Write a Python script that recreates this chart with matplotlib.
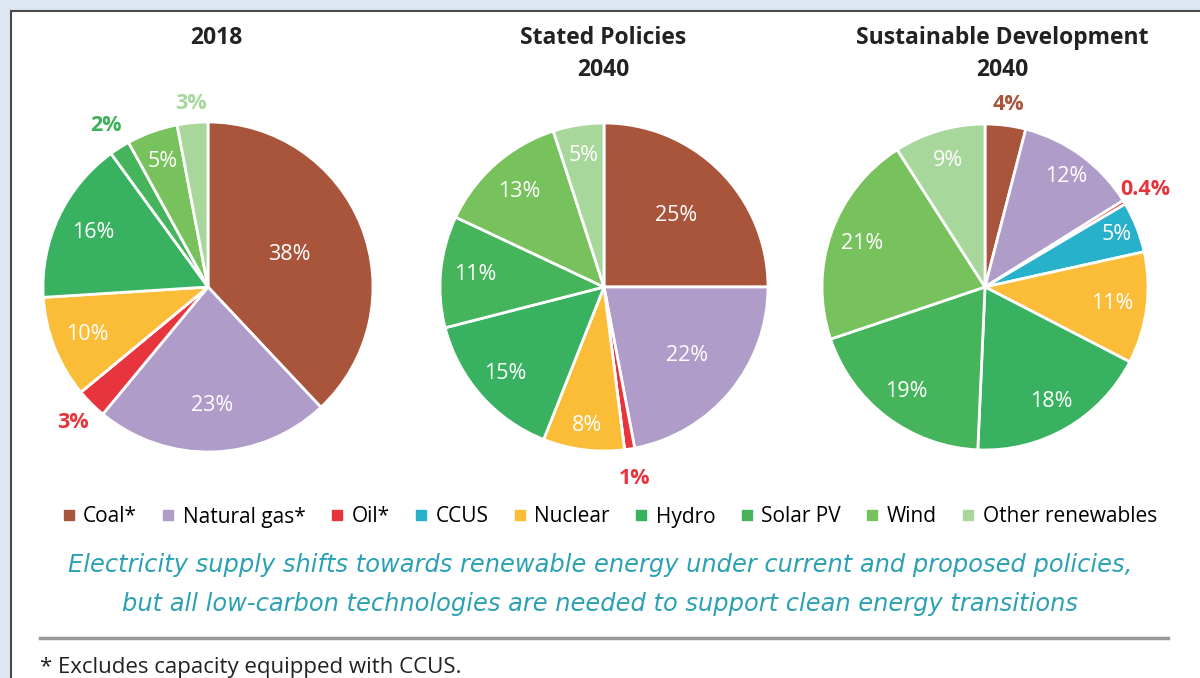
import matplotlib
matplotlib.use("Agg")
import matplotlib.pyplot as plt
from matplotlib.patches import Rectangle
from matplotlib.lines import Line2D
import numpy as np

# ---------------- data ----------------
categories = ["Coal*", "Natural gas*", "Oil*", "CCUS", "Nuclear", "Hydro",
              "Solar PV", "Wind", "Other renewables"]
titles = ["2018", "Stated Policies\n2040", "Sustainable Development\n2040"]
share_2018 = [38, 23, 3, 0, 10, 16, 2, 5, 3]
share_sp2040 = [25, 22, 1, 0, 8, 15, 11, 13, 5]
share_sd2040 = [4, 12, 0.4, 5, 11, 18, 19, 21, 9]
label_2018 = ["38%", "23%", "3%", "", "10%", "16%", "2%", "5%", "3%"]
label_sp2040 = ["25%", "22%", "1%", "", "8%", "15%", "11%", "13%", "5%"]
label_sd2040 = ["4%", "12%", "0.4%", "5%", "11%", "18%", "19%", "21%", "9%"]

# ---------------- style ----------------
colors = ["#a9553b", "#b09cc8", "#e8343c", "#27b1cb", "#fbbd38",
          "#38b161", "#45b45a", "#78c25d", "#a8d79b"]
FONT = "Open Sans"
W, H = 1200, 678

# label radial distance (fraction of radius) and whether outside (bold coloured)
dist_2018 = [0.53, 0.72, 1.16, 0, 0.79, 0.77, 1.16, 0.81, 1.12]
out_2018 = [False, False, True, False, False, False, True, False, True]
dist_sp = [0.62, 0.66, 1.18, 0, 0.85, 0.80, 0.79, 0.78, 0.81]
out_sp = [False, False, True, False, False, False, False, False, False]
dist_sd = [1.13, 0.84, 1.15, 0.87, 0.79, 0.81, 0.80, 0.80, 0.81]
out_sd = [True, False, True, False, False, False, False, False, False]

pies = [
    (share_2018, label_2018, dist_2018, out_2018, (208, 287), 165, (216, 37)),
    (share_sp2040, label_sp2040, dist_sp, out_sp, (604, 287), 164, (603, 37)),
    (share_sd2040, label_sd2040, dist_sd, out_sd, (985, 287), 163, (1002, 37)),
]

fig = plt.figure(figsize=(W / 100, H / 100), dpi=100, facecolor="#dde7f2")

# white panel with border
panel = Rectangle((11 / W, -0.05), 1.1, 1 - 11 / H + 0.05, transform=fig.transFigure,
                  facecolor="white", edgecolor="#4a4a4a", linewidth=1.5, zorder=-5)
fig.add_artist(panel)

for (vals, labs, dists, outs, (cx, cy), R, (tx, ty)), title in zip(pies, titles):
    ax = fig.add_axes([(cx - R) / W, 1 - (cy + R) / H, 2 * R / W, 2 * R / H])
    ax.patch.set_visible(False)
    wedges, _ = ax.pie(vals, colors=colors, startangle=90, counterclock=False,
                       radius=1, wedgeprops=dict(edgecolor="white", linewidth=2))
    ax.set_xlim(-1, 1)
    ax.set_ylim(-1, 1)
    ax.set_aspect("equal")
    ax.axis("off")
    for w, lab, d, o, col in zip(wedges, labs, dists, outs, colors):
        if not lab:
            continue
        ang = np.deg2rad((w.theta1 + w.theta2) / 2)
        x, y = d * np.cos(ang), d * np.sin(ang)
        if o:
            tc = "#3cb15a" if col == "#45b45a" else col
            ax.text(x, y, lab, ha="center", va="center", fontsize=15.5,
                    fontweight="bold", color=tc, family=FONT, clip_on=False)
        else:
            ax.text(x, y, lab, ha="center", va="center", fontsize=15.5,
                    color="white", family=FONT)
    fig.text(tx / W, 1 - (ty - 11) / H, title, ha="center", va="top", fontsize=16.5,
             fontweight="bold", color="#222222", family=FONT, linespacing=1.45)

# legend
handles = [Line2D([0], [0], marker="s", linestyle="none", markersize=7.5,
                  markerfacecolor=c, markeredgecolor=c) for c in colors]
fig.legend(handles, categories, loc="center", bbox_to_anchor=(0.508, 1 - 517 / H),
           ncol=9, frameon=False, handlelength=0.6, handletextpad=0.4,
           columnspacing=1.2, prop=dict(family=FONT, size=15))

teal = "#2ca1b4"
fig.text(0.5, 1 - 565 / H,
         "Electricity supply shifts towards renewable energy under current and proposed policies,",
         ha="center", va="center", fontsize=17.4, style="italic", color=teal,
         family="DejaVu Sans")
fig.text(0.5, 1 - 604 / H,
         "but all low-carbon technologies are needed to support clean energy transitions",
         ha="center", va="center", fontsize=17.4, style="italic", color=teal,
         family="DejaVu Sans")

fig.add_artist(Line2D([40 / W, 1168 / W], [1 - 638 / H, 1 - 638 / H],
                      transform=fig.transFigure, color="#9a9a9a", linewidth=2.5))
fig.text(40 / W, 1 - 668 / H, "* Excludes capacity equipped with CCUS.",
         ha="left", va="center", fontsize=16, color="#222222", family=FONT)

fig.savefig("out.png", dpi=100, facecolor=fig.get_facecolor())
